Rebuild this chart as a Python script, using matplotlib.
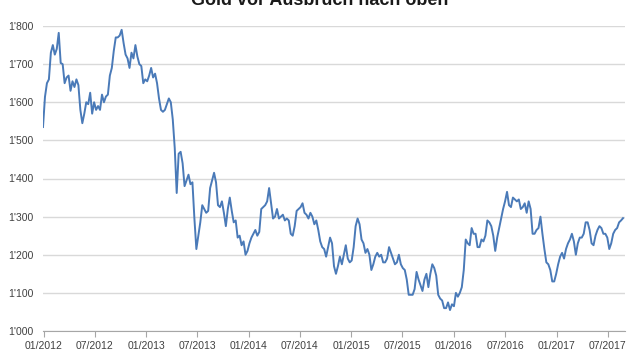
import numpy as np
import pandas as pd
import matplotlib
matplotlib.use("Agg")
import matplotlib.pyplot as plt
import matplotlib.dates as mdates
from matplotlib.ticker import FuncFormatter

# weekly gold price (USD/oz), Fridays from 30.12.2011
start = "2011-12-30"
gold = [
    1535,
    # 2012
    1614, 1650, 1660, 1730,
    1750, 1725, 1740, 1782,
    1703, 1700, 1650, 1665, 1670,
    1630, 1655, 1640, 1660,
    1645, 1580, 1545, 1570,
    1600, 1595, 1625, 1570, 1600,
    1580, 1590, 1580, 1620,
    1600, 1615, 1620, 1670, 1690,
    1735, 1770, 1770, 1775,
    1790, 1755, 1725, 1715,
    1690, 1730, 1715, 1750, 1720,
    1700, 1695, 1650, 1660,
    # 2013
    1655, 1670, 1690, 1665,
    1675, 1650, 1610, 1580,
    1575, 1580, 1595, 1610, 1600,
    1555, 1480, 1362, 1465,
    1470, 1440, 1380, 1395, 1410,
    1385, 1390, 1295, 1215,
    1250, 1285, 1330, 1320,
    1310, 1315, 1375, 1395, 1415,
    1390, 1330, 1325, 1340,
    1310, 1275, 1320, 1350,
    1315, 1285, 1290, 1245, 1250,
    1225, 1235, 1200, 1210,
    # 2014
    1230, 1245, 1255, 1265, 1250,
    1260, 1320, 1325, 1330,
    1340, 1375, 1335, 1295,
    1300, 1320, 1295, 1300,
    1305, 1290, 1295, 1290, 1255,
    1250, 1275, 1315, 1320,
    1325, 1335, 1310, 1305,
    1295, 1310, 1300, 1280, 1290,
    1265, 1235, 1220, 1215,
    1195, 1220, 1245, 1230, 1170,
    1150, 1170, 1195, 1175,
    1200, 1225, 1190, 1180,
    # 2015
    1185, 1220, 1275, 1295, 1280,
    1240, 1230, 1205, 1215,
    1200, 1160, 1175, 1195,
    1205, 1195, 1200, 1180,
    1180, 1190, 1220, 1205, 1190,
    1175, 1180, 1200, 1175,
    1165, 1160, 1135, 1095, 1095,
    1095, 1110, 1155, 1135,
    1120, 1105, 1135, 1150,
    1115, 1150, 1175, 1165, 1145,
    1095, 1085, 1080, 1060,
    1060, 1075, 1055, 1070,
    # 2016
    1065, 1100, 1090, 1100, 1115,
    1160, 1240, 1230, 1225,
    1270, 1255, 1255, 1220,
    1220, 1240, 1235, 1250, 1290,
    1285, 1275, 1250, 1210,
    1245, 1270, 1295, 1320,
    1340, 1365, 1330, 1325, 1350,
    1345, 1340, 1345, 1320,
    1325, 1335, 1310, 1340, 1320,
    1255, 1255, 1265, 1270,
    1300, 1255, 1215, 1180,
    1175, 1160, 1130, 1130, 1150,
    # 2017
    1175, 1195, 1205, 1190,
    1215, 1230, 1240, 1255,
    1235, 1200, 1230, 1245, 1245,
    1255, 1285, 1285, 1265,
    1230, 1225, 1250, 1265,
    1275, 1270, 1255, 1255, 1245,
    1215, 1230, 1255, 1265,
    1270, 1285, 1290, 1296,
]
dates = pd.date_range(start, periods=len(gold), freq="W-FRI")

title = "Gold vor Ausbruch nach oben"
y_ticks = [1000, 1100, 1200, 1300, 1400, 1500, 1600, 1700, 1800]

plt.rcParams['font.family'] = ['Liberation Sans', 'DejaVu Sans']

fig = plt.figure(figsize=(6.4, 3.6), dpi=100)
ax = fig.add_axes([43 / 640, 1 - 331 / 360, 582 / 640, 305 / 360])

ax.plot(dates, gold, color='#4a7ab8', lw=1.4, solid_joinstyle='round')

ax.set_ylim(1000, 1800)
ax.set_xlim(pd.Timestamp("2011-12-30"), pd.Timestamp("2017-09-01"))
ax.set_yticks(y_ticks)
ax.yaxis.set_major_formatter(FuncFormatter(lambda v, p: "{:,.0f}".format(v).replace(",", "'")))
ax.xaxis.set_major_locator(mdates.MonthLocator(bymonth=[1, 7]))
ax.xaxis.set_major_formatter(mdates.DateFormatter("%m/%Y"))

ax.grid(axis='y', color='#d9d9d9', lw=1)
ax.set_axisbelow(True)
for s in ['top', 'right', 'left']:
    ax.spines[s].set_visible(False)
ax.spines['bottom'].set_color('#a6a6a6')
ax.tick_params(axis='x', direction='out', length=4, color='#a6a6a6',
               labelsize=7.5, labelcolor='#404040', pad=3)
ax.tick_params(axis='y', length=0, labelsize=7.5, labelcolor='#404040', pad=7)

fig.text(0.5, 1 - 5 / 360, title, ha='center', va='baseline',
         fontsize=13, fontweight='bold', color='#1a1a1a')

fig.savefig("out.png", dpi=100)
